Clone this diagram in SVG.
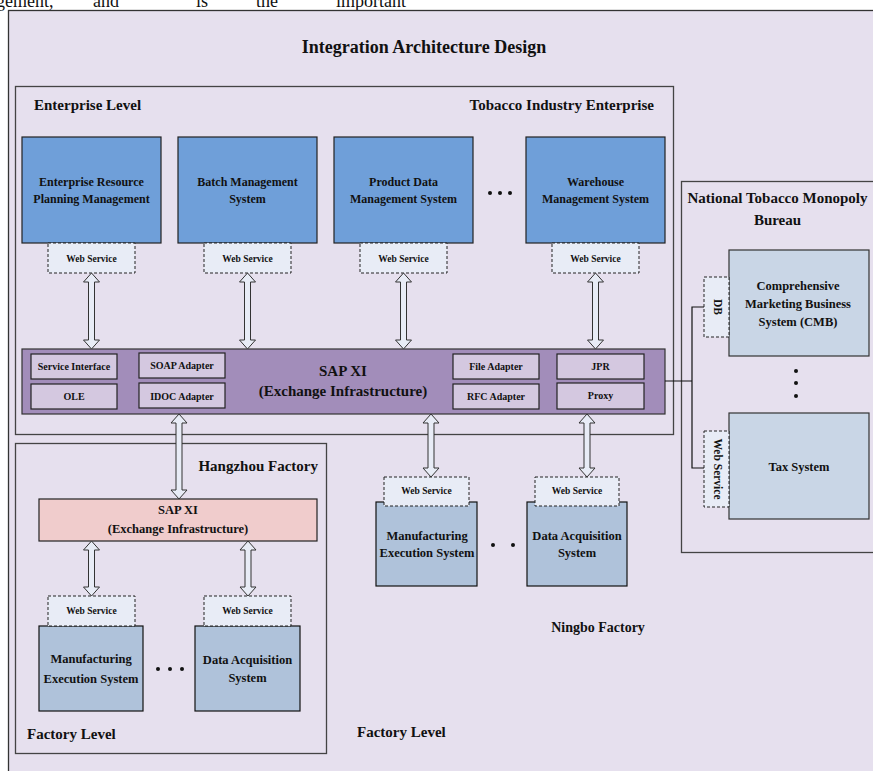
<svg xmlns="http://www.w3.org/2000/svg" width="873" height="771" viewBox="0 0 873 771">
<style>
text{font-family:"Liberation Serif","Times New Roman",serif;font-weight:bold;fill:#111;}
.c{text-anchor:middle;}
.frame{fill:none;stroke:#444;stroke-width:1.3;}
.blue{fill:#6F9FD9;stroke:#222;stroke-width:1.2;}
.ws{fill:#E8ECF6;stroke:#222;stroke-width:1;stroke-dasharray:3,2;}
.sap{fill:#A28DBA;stroke:#333;stroke-width:1.2;}
.inner{fill:#D4C8E0;stroke:#222;stroke-width:1.2;}
.lb{fill:#C9D6E6;stroke:#333;stroke-width:1.2;}
.sys{fill:#AFC2DA;stroke:#111;stroke-width:1.2;}
.pink{fill:#F0CCCC;stroke:#222;stroke-width:1.2;}
.arr{fill:#E8ECF6;stroke:#333;stroke-width:1;}
.ln{fill:none;stroke:#111;stroke-width:1.2;}
.t15{font-size:15px;}
.t12{font-size:12px;}
.t9{font-size:9.5px;}
.t10{font-size:10px;}
.body{font-weight:normal;font-size:18px;}
</style>

<!-- clipped sentence at top -->
<text class="body" x="-4" y="7">gement,</text>
<text class="body" x="93" y="7">and</text>
<text class="body" x="196" y="7">is</text>
<text class="body" x="256" y="7">the</text>
<text class="body" x="336" y="7">important</text>

<g id="outer">
<rect x="8.5" y="10.5" width="880" height="780" fill="#E6E0EE" stroke="#333" stroke-width="1.3"/>
<text class="c" x="424" y="53" style="font-size:18px">Integration Architecture Design</text>
</g>

<g id="enterprise">
<rect class="frame" x="15.5" y="86.5" width="658" height="348"/>
<text class="t15" x="34" y="110">Enterprise Level</text>
<text class="t15" x="654" y="110" text-anchor="end">Tobacco Industry Enterprise</text>
</g>

<g id="national">
<rect class="frame" x="681.5" y="181.5" width="220" height="371"/>
<text class="t15 c" x="777.5" y="203">National Tobacco Monopoly</text>
<text class="t15 c" x="777.5" y="225">Bureau</text>
</g>

<g id="hangzhou">
<rect class="frame" x="15.5" y="443.5" width="311" height="310"/>
<text class="t15" x="318" y="471" text-anchor="end">Hangzhou Factory</text>
<text class="t15" x="27" y="739">Factory Level</text>
</g>

<g id="ningbo">
<text class="c" x="598" y="632" style="font-size:14px">Ningbo Factory</text>
<text class="t15" x="357" y="737">Factory Level</text>
</g>

<g id="erp">
<rect class="blue" x="22" y="137" width="139" height="106"/>
<text class="t12 c" x="91.5" y="186">Enterprise Resource</text>
<text class="t12 c" x="91.5" y="203">Planning Management</text>
<rect class="ws" x="48" y="243" width="87" height="30"/>
<text class="t9 c" x="91.5" y="262">Web Service</text>
</g>

<g id="batch">
<rect class="blue" x="178" y="137" width="139" height="106"/>
<text class="t12 c" x="247.5" y="186">Batch Management</text>
<text class="t12 c" x="247.5" y="203">System</text>
<rect class="ws" x="204" y="243" width="87" height="30"/>
<text class="t9 c" x="247.5" y="262">Web Service</text>
</g>

<g id="pdm">
<rect class="blue" x="334" y="137" width="139" height="106"/>
<text class="t12 c" x="403.5" y="186">Product Data</text>
<text class="t12 c" x="403.5" y="203">Management System</text>
<rect class="ws" x="360" y="243" width="87" height="30"/>
<text class="t9 c" x="403.5" y="262">Web Service</text>
</g>

<g id="dots1" fill="#111">
<circle cx="490" cy="193" r="2"/><circle cx="500" cy="193" r="2"/><circle cx="510" cy="193" r="2"/>
</g>

<g id="wms">
<rect class="blue" x="526" y="137" width="139" height="106"/>
<text class="t12 c" x="595.5" y="186">Warehouse</text>
<text class="t12 c" x="595.5" y="203">Management System</text>
<rect class="ws" x="552" y="243" width="87" height="30"/>
<text class="t9 c" x="595.5" y="262">Web Service</text>
</g>

<g id="sapxi">
<rect class="sap" x="22" y="349" width="643" height="65"/>
<rect class="inner" x="31" y="354" width="86" height="25"/>
<text class="t10 c" x="74" y="370">Service Interface</text>
<rect class="inner" x="31" y="384" width="86" height="25"/>
<text class="t10 c" x="74" y="400">OLE</text>
<rect class="inner" x="139" y="353" width="86" height="25"/>
<text class="t10 c" x="182" y="369">SOAP Adapter</text>
<rect class="inner" x="139" y="383" width="86" height="25"/>
<text class="t10 c" x="182" y="400">IDOC Adapter</text>
<text class="c" x="343" y="376" style="font-size:15px">SAP XI</text>
<text class="c" x="343" y="396" style="font-size:15px">(Exchange Infrastructure)</text>
<rect class="inner" x="453" y="354" width="86" height="25"/>
<text class="t10 c" x="496" y="370">File Adapter</text>
<rect class="inner" x="453" y="384" width="86" height="25"/>
<text class="t10 c" x="496" y="400">RFC Adapter</text>
<rect class="inner" x="557" y="354" width="87" height="25"/>
<text class="t10 c" x="600.5" y="370">JPR</text>
<rect class="inner" x="557" y="383" width="87" height="26"/>
<text class="t10 c" x="600.5" y="399">Proxy</text>
</g>

<g id="hz-sapxi">
<rect class="pink" x="39" y="499" width="278" height="42"/>
<text class="c" x="178" y="514" style="font-size:12.5px">SAP XI</text>
<text class="c" x="178" y="533" style="font-size:12.5px">(Exchange Infrastructure)</text>
</g>

<g id="hz-mes">
<rect class="sys" x="39" y="626" width="104" height="85"/>
<text class="c" x="91" y="663" style="font-size:12.5px">Manufacturing</text>
<text class="c" x="91" y="683" style="font-size:12.5px">Execution System</text>
<rect class="ws" x="48" y="596" width="87" height="30"/>
<text class="t9 c" x="91.5" y="614">Web Service</text>
</g>

<g id="dots2" fill="#111">
<circle cx="158" cy="669" r="2"/><circle cx="170" cy="669" r="2"/><circle cx="182" cy="669" r="2"/>
</g>

<g id="hz-das">
<rect class="sys" x="195" y="626" width="105" height="85"/>
<text class="c" x="247.5" y="664" style="font-size:12.5px">Data Acquisition</text>
<text class="c" x="247.5" y="682" style="font-size:12.5px">System</text>
<rect class="ws" x="204" y="596" width="87" height="30"/>
<text class="t9 c" x="247.5" y="614">Web Service</text>
</g>

<g id="nb-mes">
<rect class="sys" x="376" y="502" width="101" height="84"/>
<text class="c" x="427" y="540" style="font-size:12.5px">Manufacturing</text>
<text class="c" x="427" y="557" style="font-size:12.5px">Execution System</text>
<rect class="ws" x="384" y="477" width="85" height="29"/>
<text class="t9 c" x="426.5" y="494">Web Service</text>
</g>

<g id="dots3" fill="#111">
<circle cx="493" cy="545" r="2"/><circle cx="513" cy="545" r="2"/>
</g>

<g id="nb-das">
<rect class="sys" x="527" y="502" width="100" height="84"/>
<text class="c" x="577" y="540" style="font-size:12.5px">Data Acquisition</text>
<text class="c" x="577" y="557" style="font-size:12.5px">System</text>
<rect class="ws" x="535" y="477" width="84" height="29"/>
<text class="t9 c" x="577" y="494">Web Service</text>
</g>

<g id="cmb">
<rect class="lb" x="729" y="250" width="140" height="106"/>
<text class="c" x="798" y="290" style="font-size:12.5px">Comprehensive</text>
<text class="c" x="798" y="308" style="font-size:12.5px">Marketing Business</text>
<text class="c" x="798" y="326" style="font-size:12.5px">System (CMB)</text>
<rect class="ws" x="704" y="277" width="25" height="60"/>
<text class="c" transform="translate(713.5,307) rotate(90)" style="font-size:11.5px">DB</text>
</g>

<g id="dots4" fill="#111">
<circle cx="796" cy="371" r="2"/><circle cx="796" cy="383" r="2"/><circle cx="796" cy="396" r="2"/>
</g>

<g id="tax">
<rect class="lb" x="729" y="413" width="140" height="106"/>
<text class="c" x="799" y="471" style="font-size:12.5px">Tax System</text>
<rect class="ws" x="704" y="431" width="25" height="76"/>
<text class="c" transform="translate(713.5,469) rotate(90)" style="font-size:11.5px">Web Service</text>
</g>

<g id="connectors">
<path class="arr" d="M91.5,273 L99.5,282 L94.5,282 L94.5,340 L99.5,340 L91.5,349 L83.5,340 L88.5,340 L88.5,282 L83.5,282 Z"/>
<path class="arr" d="M247.5,273 L255.5,282 L250.5,282 L250.5,340 L255.5,340 L247.5,349 L239.5,340 L244.5,340 L244.5,282 L239.5,282 Z"/>
<path class="arr" d="M403.5,273 L411.5,282 L406.5,282 L406.5,340 L411.5,340 L403.5,349 L395.5,340 L400.5,340 L400.5,282 L395.5,282 Z"/>
<path class="arr" d="M595.5,273 L603.5,282 L598.5,282 L598.5,340 L603.5,340 L595.5,349 L587.5,340 L592.5,340 L592.5,282 L587.5,282 Z"/>
<path class="arr" d="M179,414 L187,423 L182,423 L182,490 L187,490 L179,499 L171,490 L176,490 L176,423 L171,423 Z"/>
<path class="arr" d="M431,414 L439,423 L434,423 L434,468 L439,468 L431,477 L423,468 L428,468 L428,423 L423,423 Z"/>
<path class="arr" d="M587,414 L595,423 L590,423 L590,468 L595,468 L587,477 L579,468 L584,468 L584,423 L579,423 Z"/>
<path class="arr" d="M91.5,541 L99.5,550 L94.5,550 L94.5,587 L99.5,587 L91.5,596 L83.5,587 L88.5,587 L88.5,550 L83.5,550 Z"/>
<path class="arr" d="M248,541 L256,550 L251,550 L251,587 L256,587 L248,596 L240,587 L245,587 L245,550 L240,550 Z"/>
<path class="ln" d="M665,381 H692 M704,307 H692 V468 H704"/>
</g>
</svg>
